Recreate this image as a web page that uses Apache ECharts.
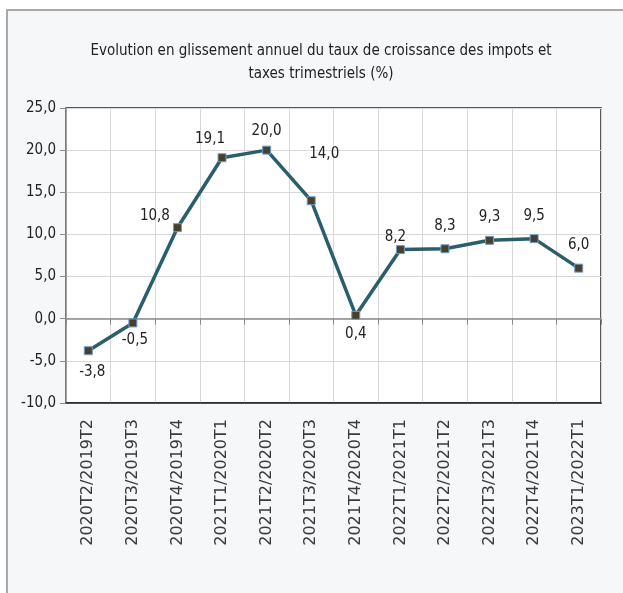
<!DOCTYPE html>
<html>
<head>
<meta charset="utf-8">
<script src="https://cdn.jsdelivr.net/npm/echarts@6/dist/echarts.min.js"></script>
<style>
html,body{margin:0;padding:0;background:#fff;}
#chart{width:623px;height:593px;}
</style>
</head>
<body>
<div id="chart"></div>
<script>
const categories = ["2020T2/2019T2","2020T3/2019T3","2020T4/2019T4","2021T1/2020T1","2021T2/2020T2","2021T3/2020T3","2021T4/2020T4","2022T1/2021T1","2022T2/2021T2","2022T3/2021T3","2022T4/2021T4","2023T1/2022T1"];
const values = [-3.8, -0.5, 10.8, 19.1, 20.0, 14.0, 0.4, 8.2, 8.3, 9.3, 9.5, 6.0];
const titleText = "Evolution en glissement annuel du taux de croissance des impots et\ntaxes trimestriels (%)";

const condensed = '"DejaVu Sans Condensed", sans-serif';

// label placement (style only)
const labelPlacement = [
  {position:'bottom', offset:[4,4]},
  {position:'bottom', offset:[2,0]},
  {position:'left', offset:[2,-12]},
  {position:'top', offset:[-12,-2]},
  {position:'top', offset:[0,-2]},
  {position:'top', offset:[13,-30]},
  {position:'bottom', offset:[0,2]},
  {position:'top', offset:[-5,5]},
  {position:'top', offset:[0,-6]},
  {position:'top', offset:[0,-6]},
  {position:'top', offset:[0,-6]},
  {position:'top', offset:[0,-6]}
];

const fmt = v => v.toFixed(1).replace('.', ',');

const chart = echarts.init(document.getElementById('chart'), null, {renderer:'canvas'});
chart.setOption({
  animation:false,
  backgroundColor:'#ffffff',
  graphic:[{
    type:'rect', z:-10, silent:true,
    shape:{x:7, y:10, width:640, height:600},
    style:{fill:'#f6f7f9', stroke:'#a8a8a8', lineWidth:2}
  }],
  title:{
    text:titleText,
    left:316, top:35,
    textAlign:'center',
    textStyle:{fontFamily:condensed, fontSize:15, fontWeight:'normal', color:'#222', lineHeight:23}
  },
  grid:{left:66, right:22, top:108, bottom:190, show:true, backgroundColor:'#ffffff', borderColor:'#222', borderWidth:1.5},
  xAxis:[{
    type:'category', data:categories, position:'bottom', boundaryGap:true,
    axisLine:{onZero:false, lineStyle:{color:'#222', width:1.5}},
    axisTick:{show:false},
    axisLabel:{interval:0, rotate:90, margin:16, fontFamily:'"DejaVu Sans", sans-serif', fontSize:16, color:'#3a3a3a'},
    splitLine:{show:true, interval:0, lineStyle:{color:'#d9d9d9', width:1}}
  },{
    type:'category', data:categories, position:'top', boundaryGap:true,
    axisLine:{show:true, onZero:true, lineStyle:{color:'#8a8a8a', width:1.5}},
    axisTick:{show:true, interval:0, inside:true, length:6, lineStyle:{color:'#8a8a8a'}},
    axisLabel:{show:false},
    splitLine:{show:false}
  }],
  yAxis:{
    type:'value', min:-10, max:25, interval:5,
    axisLine:{show:true, lineStyle:{color:'#8a8a8a', width:1.5}},
    axisTick:{show:true, length:6, lineStyle:{color:'#8a8a8a'}},
    axisLabel:{formatter:v => fmt(v), fontFamily:condensed, fontSize:15, color:'#222', margin:10},
    splitLine:{show:true, lineStyle:{color:'#d9d9d9', width:1}}
  },
  series:[{
    type:'line', xAxisIndex:0,
    data:values.map((v,i)=>({value:v, label:labelPlacement[i]})),
    symbol:'rect', symbolSize:8,
    itemStyle:{color:'#4b3f28', borderColor:'#6d9fd6', borderWidth:1},
    lineStyle:{color:'#2b5e6b', width:3.5},
    label:{show:true, formatter:p => fmt(p.value), fontFamily:condensed, fontSize:15, color:'#222'},
    z:5
  }]
});
</script>
</body>
</html>
